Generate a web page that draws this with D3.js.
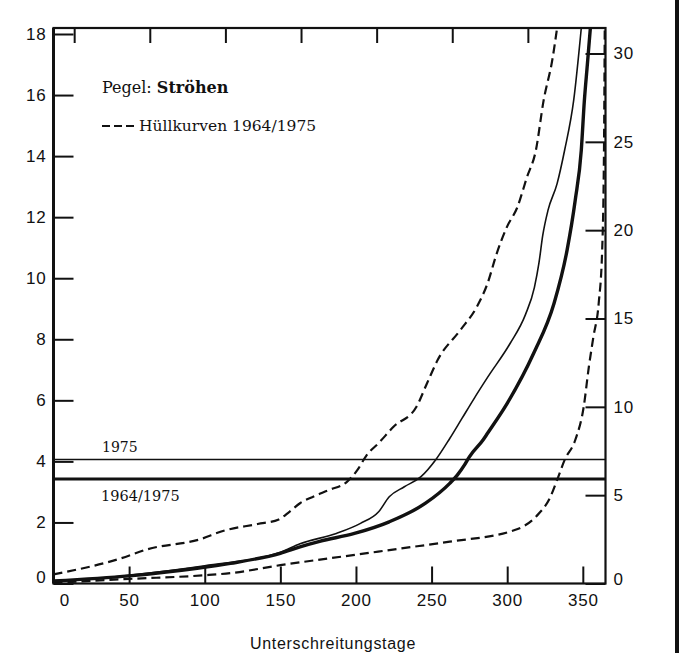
<!DOCTYPE html>
<html>
<head>
<meta charset="utf-8">
<script src="https://cdn.jsdelivr.net/npm/d3@7/dist/d3.min.js"></script>
<style>
body { margin: 0; background: #fff; }
.tick text { font-family: "Liberation Sans", Arial, sans-serif; font-size: 17px; letter-spacing: 0.8px; fill: #111; }
.tick line { stroke: #111; stroke-width: 2; }
.serif { font-family: "DejaVu Serif", "Liberation Serif", serif; fill: #111; }
</style>
</head>
<body>
<div id="chart"></div>
<script>
// [day, value] pairs
var upperEnvelope = [[0,0.3],[45,0.83],[62,1.12],[97,1.45],[112,1.72],[135,1.95],[149,2.1],[156,2.35],[163,2.63],
    [172,2.85],[182,3.06],[194,3.33],[201,3.72],[207,4.2],[215,4.6],[225,5.14],[240,5.79],[247,6.56],[254,7.32],
    [269,8.3],[280,9.07],[287,9.83],[293,10.8],[300,11.7],[306.5,12.3],[313,13.3],[319,14.2],[324,15.8],[330,17.2],[333,18.2]];

var curve1975 = [[0,0.06],[50,0.27],[100,0.58],[150,1.02],[163,1.3],[187,1.64],[203,1.97],[215,2.35],[222,2.84],
    [232,3.17],[243,3.5],[253,4.07],[262,4.75],[270,5.4],[278,6.05],[287,6.75],[302,7.87],[312,8.8],[318,9.7],
    [321,10.5],[323.5,11.4],[327,12.23],[333,13.1],[338,14.2],[344,15.84],[349,18.2]];

var curveMean = [[0,0.08],[50,0.25],[95,0.5],[117,0.66],[150,0.99],[163,1.2],[176,1.38],[199,1.64],[222,2.02],
    [246,2.63],[262,3.28],[267,3.55],[272,3.9],[275,4.15],[284,4.7],[287,4.92],[300,5.9],[317.5,7.54],[331,9.18],
    [339.6,10.92],[345,12.56],[349,14.2],[351,15.8],[353,17],[355,18.2]];

var lowerEnvelope = [[0,0.02],[50,0.15],[100,0.27],[117,0.34],[150,0.6],[198,0.93],[230,1.15],[262,1.37],[305,1.75],
    [319,2.19],[328.6,2.84],[333,3.39],[338,4.05],[345,4.7],[350.6,5.79],[354,7.1],[357,8.08],[360.5,9.18],
    [362.8,10.92],[364,14.2],[364.5,18.2]];

var level1975 = 4.06;
var level6475 = 3.42;

var xTicks = [0, 50, 100, 150, 200, 250, 300, 350];
var topTicks = [14, 64, 114, 164, 214, 264, 314];
var yTicks = [0, 2, 4, 6, 8, 10, 12, 14, 16, 18];
var y2Ticks = [0, 5, 10, 15, 20, 25, 30];

var width = 688, height = 653;
var mLeft = 53.5, mRight = 605.5, mTop = 28, mBottom = 583.5;

var svg = d3.select('#chart').append('svg')
    .attr('width', width)
    .attr('height', height);

svg.append('rect').attr('width', width).attr('height', height).attr('fill', '#fff');

var x = d3.scaleLinear().domain([0, 365]).range([mLeft, mRight]);
var y = d3.scaleLinear().domain([0, 18]).range([mBottom, 34]);
var y2 = d3.scaleLinear().domain([0, 30]).range([mBottom, 53.5]);

svg.append('clipPath').attr('id', 'plot')
    .append('rect')
    .attr('x', mLeft).attr('y', mTop)
    .attr('width', mRight - mLeft).attr('height', mBottom - mTop);

// axes
var gx = svg.append('g')
    .attr('transform', 'translate(0,' + mBottom + ')')
    .call(d3.axisBottom(x).tickValues(xTicks).tickSize(-17).tickPadding(10));
gx.selectAll('.tick text').filter(function (d) { return d === 0; }).attr('x', 11);
gx.selectAll('.tick line').filter(function (d) { return d === 0; }).remove();

var gy = svg.append('g')
    .attr('transform', 'translate(' + mLeft + ',0)')
    .call(d3.axisLeft(y).tickValues(yTicks).tickSize(-20).tickPadding(7));
gy.selectAll('.tick text').filter(function (d) { return d === 0; }).attr('y', -6);

var gy2 = svg.append('g')
    .attr('transform', 'translate(' + mRight + ',0)')
    .call(d3.axisRight(y2).tickValues(y2Ticks).tickSize(-20).tickPadding(8));
gy2.selectAll('.tick text').filter(function (d) { return d === 0; }).attr('y', -4);

svg.selectAll('.domain').remove();

// top ticks
svg.selectAll('.topTick')
    .data(topTicks)
    .enter()
    .append('line')
    .attr('x1', function (d) { return x(d); })
    .attr('x2', function (d) { return x(d); })
    .attr('y1', mTop)
    .attr('y2', mTop + 15)
    .attr('stroke', '#111')
    .attr('stroke-width', 2);

// frame
svg.append('rect')
    .attr('x', mLeft).attr('y', mTop)
    .attr('width', mRight - mLeft).attr('height', mBottom - mTop)
    .attr('fill', 'none').attr('stroke', '#111').attr('stroke-width', 2.2);
svg.append('line')
    .attr('x1', mLeft).attr('x2', mLeft).attr('y1', mTop).attr('y2', mBottom)
    .attr('stroke', '#111').attr('stroke-width', 3);

// horizontal reference levels
svg.append('line')
    .attr('x1', mLeft).attr('x2', mRight)
    .attr('y1', y(level1975)).attr('y2', y(level1975))
    .attr('stroke', '#111').attr('stroke-width', 1.5);
svg.append('line')
    .attr('x1', mLeft).attr('x2', mRight)
    .attr('y1', y(level6475)).attr('y2', y(level6475))
    .attr('stroke', '#111').attr('stroke-width', 3);

var line = d3.line()
    .x(function (d) { return x(d[0]); })
    .y(function (d) { return y(d[1]); })
    .curve(d3.curveMonotoneX);

var curves = svg.append('g').attr('clip-path', 'url(#plot)');

curves.append('path').datum(upperEnvelope)
    .attr('d', line).attr('fill', 'none')
    .attr('stroke', '#111').attr('stroke-width', 2.2).attr('stroke-dasharray', '9,5');
curves.append('path').datum(lowerEnvelope)
    .attr('d', line).attr('fill', 'none')
    .attr('stroke', '#111').attr('stroke-width', 2.2).attr('stroke-dasharray', '9,5');
curves.append('path').datum(curve1975)
    .attr('d', line).attr('fill', 'none')
    .attr('stroke', '#111').attr('stroke-width', 1.6);
curves.append('path').datum(curveMean)
    .attr('d', line).attr('fill', 'none')
    .attr('stroke', '#111').attr('stroke-width', 3.4);

// labels on the levels
svg.append('text').attr('class', 'serif')
    .attr('x', 102).attr('y', 452)
    .style('font-size', '14px')
    .text('1975');
svg.append('text').attr('class', 'serif')
    .attr('x', 101).attr('y', 501)
    .style('font-size', '14.5px')
    .text('1964/1975');

// legend
var title = svg.append('text').attr('class', 'serif')
    .attr('x', 102).attr('y', 93)
    .style('font-size', '16px');
title.append('tspan').text('Pegel: ');
title.append('tspan').style('font-weight', 'bold').text('Ströhen');

svg.append('line')
    .attr('x1', 102).attr('x2', 134)
    .attr('y1', 126).attr('y2', 126)
    .attr('stroke', '#111').attr('stroke-width', 1.8).attr('stroke-dasharray', '8,4');
svg.append('text').attr('class', 'serif')
    .attr('x', 139).attr('y', 131)
    .style('font-size', '15.5px')
    .text('Hüllkurven 1964/1975');

// x-axis title
svg.append('text')
    .attr('x', 333).attr('y', 649)
    .attr('text-anchor', 'middle')
    .style('font-family', '"Liberation Sans", Arial, sans-serif')
    .style('font-size', '16px')
    .style('letter-spacing', '0.7px')
    .attr('fill', '#111')
    .text('Unterschreitungstage');

// page edge bar on the right
svg.append('rect')
    .attr('x', 675).attr('y', 0)
    .attr('width', 4).attr('height', height)
    .attr('fill', '#111');
</script>
</body>
</html>
